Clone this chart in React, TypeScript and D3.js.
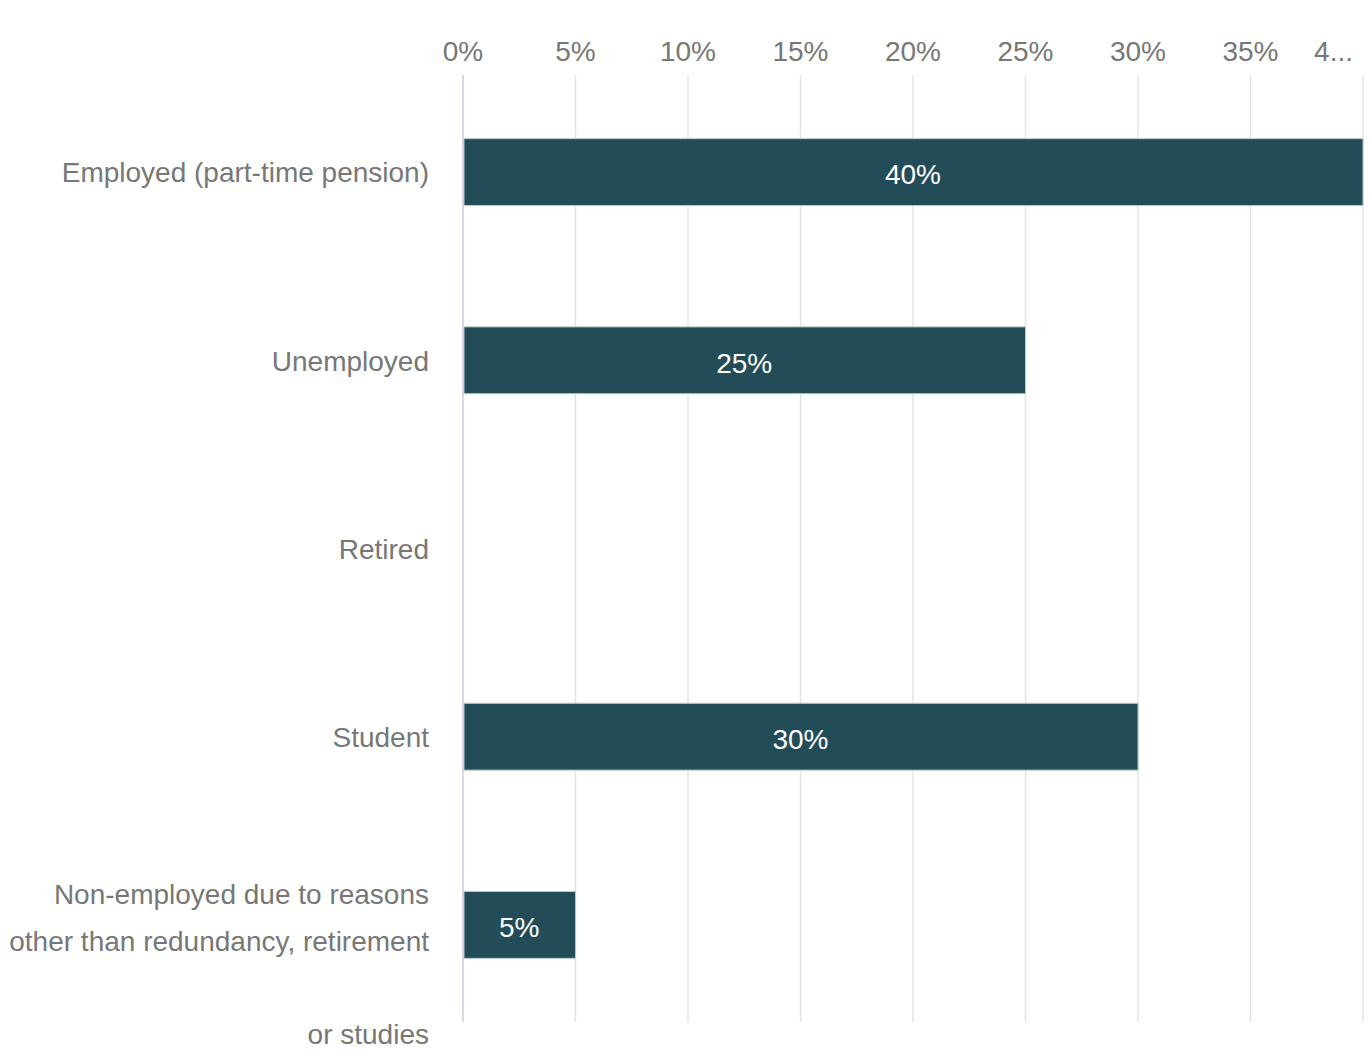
import React from "react";
import * as d3 from "d3";

const categories: string[] = [
  "Employed (part-time pension)",
  "Unemployed",
  "Retired",
  "Student",
  "Non-employed due to reasons other than redundancy, retirement or studies",
];
const categoryLines: string[][] = [
  ["Employed (part-time pension)"],
  ["Unemployed"],
  ["Retired"],
  ["Student"],
  ["Non-employed due to reasons", "other than redundancy, retirement", "", "or studies"],
];
const values: number[] = [0.4, 0.25, 0, 0.3, 0.05];
const tickValues: number[] = [0, 0.05, 0.1, 0.15, 0.2, 0.25, 0.3, 0.35, 0.4];
const tickLabels: string[] = ["0%", "5%", "10%", "15%", "20%", "25%", "30%", "35%", "4..."];

const W = 1369;
const H = 1051;
const FONT = "'Liberation Sans', Arial, sans-serif";

export default function App() {
  const x = d3.scaleLinear().domain([0, 0.4]).range([463, 1363]);
  const y = d3
    .scaleBand<string>()
    .domain(categories)
    .range([76, 1021])
    .paddingInner(0.645)
    .paddingOuter(0.333);
  const gridTop = 75;
  const gridBottom = 1022;
  const fs = 28;
  const lineH = 46.5;

  return (
    <svg
      width={W}
      height={H}
      style={{ position: "absolute", left: 0, top: 0, background: "#fff" }}
      fontFamily={FONT}
    >
      {tickValues.map((t, i) => (
        <line
          key={"g" + i}
          x1={x(t)}
          x2={x(t)}
          y1={gridTop}
          y2={gridBottom}
          stroke={i === 0 ? "#c9cbe8" : "#e4e4e4"}
          strokeWidth={1.5}
        />
      ))}
      {tickValues.map((t, i) => {
        const last = i === tickValues.length - 1;
        return (
          <text
            key={"t" + i}
            x={last ? x(t) - 10 : x(t)}
            y={54}
            textAnchor={last ? "end" : "middle"}
            dominantBaseline="middle"
            fontSize={fs}
            fill="#777"
          >
            {tickLabels[i]}
          </text>
        );
      })}
      {categories.map((c, i) => {
        const cy = (y(c) as number) + y.bandwidth() / 2 + 3;
        const lines = categoryLines[i];
        const start = lines.length > 1 ? -31 : 0;
        return (
          <g key={"c" + i}>
            {lines.map((ln, j) => (
              <text
                key={j}
                x={429}
                y={cy + start + j * lineH}
                textAnchor="end"
                dominantBaseline="middle"
                fontSize={fs}
                fill="#777"
              >
                {ln}
              </text>
            ))}
          </g>
        );
      })}
      {categories.map((c, i) =>
        values[i] > 0 ? (
          <g key={"b" + i}>
            <rect
              x={x(0) + 1}
              y={y(c) as number}
              width={x(values[i]) - x(0) - 1}
              height={y.bandwidth()}
              fill="#234c59"
              stroke="#b8c6cc"
              strokeWidth={1}
            />
            <text
              x={(x(0) + x(values[i])) / 2}
              y={(y(c) as number) + y.bandwidth() / 2 + 5}
              textAnchor="middle"
              dominantBaseline="middle"
              fontSize={fs}
              fill="#fff"
              fontWeight={500}
            >
              {d3.format(".0%")(values[i])}
            </text>
          </g>
        ) : null
      )}
    </svg>
  );
}
